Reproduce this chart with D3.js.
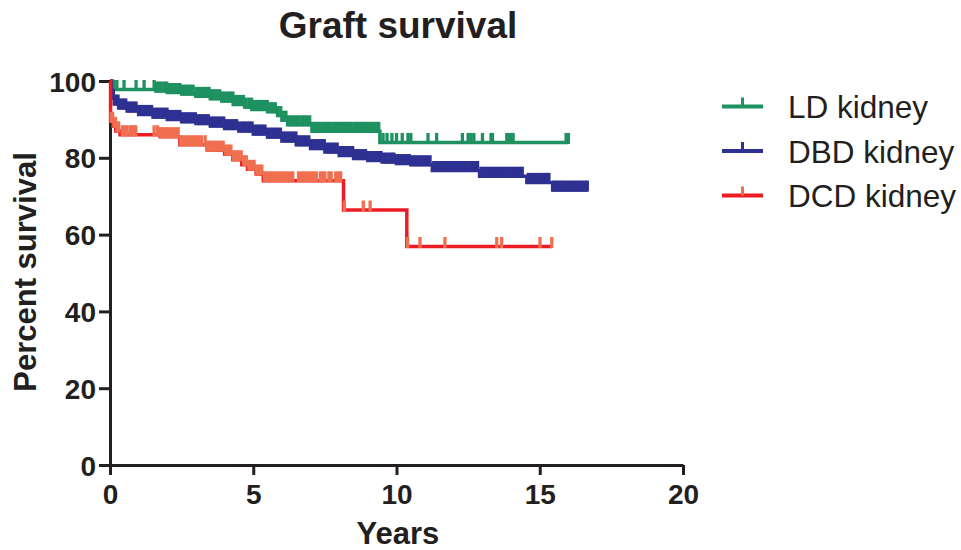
<!DOCTYPE html>
<html><head><meta charset="utf-8">
<script src="https://cdn.jsdelivr.net/npm/d3@7"></script>
<style>
html,body{margin:0;padding:0;background:#fff;}
text{font-family:"Liberation Sans",Arial,Helvetica,sans-serif;fill:#231f20;}
</style></head>
<body>
<svg id="chart" width="961" height="550"></svg>
<script>
// ---- data ----
const xTicks = [0, 5, 10, 15, 20];
const yTicks = [0, 20, 40, 60, 80, 100];
const seriesNames = ["LD kidney", "DBD kidney", "DCD kidney"];

// LD kidney: step times (years) and percent survival
const ldTime = [0, 0.08, 1.6, 2.0, 2.5, 3.0, 3.5, 3.9, 4.3, 4.7, 4.95, 5.5, 5.85, 6.0, 6.2, 7.05, 9.42, 16.0];
const ldSurv = [100, 97.8, 97.4, 97.0, 96.6, 96.0, 95.4, 94.8, 93.9, 93.2, 92.6, 92.0, 91.0, 89.8, 88.6, 86.9, 84.0, 84.0];
const ldCensor = [0.14,0.24,0.49,0.91,1.19,1.54,
 1.62,1.7,1.79,1.9,1.98,2.07,2.17,2.26,2.35,2.44,2.53,2.63,2.72,2.81,2.9,3.0,3.09,3.18,3.27,3.37,3.46,3.55,3.64,3.74,3.83,3.92,4.01,4.11,4.2,4.29,4.38,4.48,4.57,4.66,4.75,4.85,4.94,5.03,5.12,5.22,5.31,5.4,5.49,5.59,5.68,5.77,5.86,5.96,6.05,6.14,6.23,6.33,6.42,6.51,6.6,6.7,6.79,6.88,6.97,7.07,7.16,7.25,7.34,7.44,7.53,7.62,7.71,7.81,7.9,7.99,8.08,8.18,8.27,8.36,8.45,8.55,8.64,8.73,8.82,8.92,9.01,9.1,9.19,9.29,9.38,
 9.53,9.67,9.84,10.0,10.2,10.4,10.5,11.1,11.4,12.3,12.5,12.6,12.7,13.0,13.3,13.35,13.85,13.9,13.96,14.02,14.07,15.92,16.0];

// DBD kidney
const dbdTime = [0, 0.03, 0.08, 0.15, 0.3, 0.6, 1.0, 1.5, 2.0, 2.5, 3.0, 3.5, 4.0, 4.5, 5.0, 5.5, 6.0, 6.5, 7.0, 7.5, 8.0, 8.5, 9.0, 9.5, 10.0, 10.5, 11.25, 12.9, 14.55, 15.45, 16.68];
const dbdSurv = [100, 97.5, 95.5, 94.0, 93.0, 92.2, 91.3, 90.6, 90.0, 89.4, 88.9, 88.3, 87.6, 87.0, 86.2, 85.4, 84.4, 83.4, 82.4, 81.5, 80.6, 79.8, 79.3, 78.9, 78.5, 78.2, 76.7, 75.2, 73.6, 71.6, 71.6];
const dbdCensor = [0.05,0.12,0.2,0.28,0.37,0.46,0.55,0.64,0.73,0.82,0.91,1.0,1.09,1.18,1.27,1.36,1.45,1.54,1.63,1.72,1.81,1.9,1.99,2.08,2.17,2.26,2.35,2.44,2.53,2.62,2.71,2.8,2.89,2.98,3.07,3.16,3.25,3.34,3.43,3.52,3.61,3.7,3.79,3.88,3.97,4.06,4.15,4.24,4.33,4.42,4.51,4.6,4.69,4.78,4.87,4.96,5.05,5.14,5.23,5.32,5.41,5.5,5.59,5.68,5.77,5.86,5.95,6.04,6.13,6.22,6.31,6.4,6.49,6.58,6.67,6.76,6.85,6.94,7.03,7.12,7.21,7.3,7.39,7.48,7.57,7.66,7.75,7.84,7.93,8.02,8.11,8.2,8.29,8.38,8.47,8.56,8.65,8.74,8.83,8.92,9.01,9.1,9.19,9.28,9.37,9.46,9.55,9.64,9.73,9.82,9.91,10.0,10.09,10.18,10.27,10.36,10.45,10.54,10.63,10.72,10.81,10.9,10.99,11.08,11.17,11.3,11.39,11.48,11.57,11.66,11.75,11.84,11.93,12.02,12.11,12.2,12.29,12.38,12.47,12.56,12.65,12.74,12.83,12.95,13.04,13.13,13.22,13.31,13.4,13.49,13.58,13.67,13.76,13.85,13.94,14.03,14.12,14.21,14.3,14.39,14.6,14.69,14.78,14.87,14.96,15.05,15.14,15.23,15.32,15.5,15.59,15.68,15.77,15.86,15.95,16.04,16.13,16.22,16.31,16.4,16.49,16.58,16.66];

// DCD kidney
const dcdTime = [0, 0.02, 0.1, 0.2, 0.35, 1.75, 2.44, 3.39, 4.0, 4.29, 4.6, 4.8, 5.1, 5.35, 8.15, 10.36, 15.42];
const dcdSurv = [100, 89.5, 88.2, 87.0, 86.0, 85.5, 83.4, 82.0, 81.0, 79.5, 78.2, 77.0, 75.8, 74.0, 66.4, 56.9, 56.9];
const dcdCensor = [0.04,0.09,0.14,0.19,0.24,0.3,0.43,0.51,0.6,0.72,0.78,0.84,0.9,1.54,
 1.66,1.75,1.84,1.93,2.02,2.11,2.2,2.29,2.38,2.47,2.56,2.65,2.74,2.83,2.92,3.01,3.1,3.19,3.32,3.41,3.5,3.59,3.68,3.77,3.86,3.95,4.04,4.13,4.22,4.31,4.4,4.49,4.58,4.67,4.76,4.85,4.94,5.03,5.12,5.21,5.3,5.39,5.48,5.57,5.66,5.75,5.84,5.93,6.02,6.11,6.2,6.29,6.38,6.58,6.67,6.76,6.85,6.94,7.03,7.12,7.2,7.34,7.43,7.5,7.64,7.72,7.88,7.97,8.05,
 8.18,8.84,9.08,10.39,10.82,11.69,13.5,13.67,15.01,15.42];

// ---- drawing ----
const svg = d3.select("#chart");
const ink = "#231f20";
const x = d3.scaleLinear().domain([0, 20]).range([110, 683]);
const y = d3.scaleLinear().domain([0, 100]).range([465, 81]);

svg.append("text").attr("x", 398).attr("y", 38).attr("text-anchor", "middle")
  .style("font-size", "37px").style("font-weight", "bold").text("Graft survival");

// axes
const xAxis = d3.axisBottom(x).tickValues(xTicks).tickSize(10).tickSizeOuter(0).tickPadding(9).tickFormat(d3.format("d"));
const yAxis = d3.axisLeft(y).tickValues(yTicks).tickSize(11).tickSizeOuter(0).tickPadding(3).tickFormat(d3.format("d"));
const gx = svg.append("g").attr("transform", "translate(0,465)").call(xAxis);
const gy = svg.append("g").attr("transform", "translate(110,0)").call(yAxis);
[gx, gy].forEach(g => {
  g.select(".domain").attr("stroke", ink).attr("stroke-width", 3);
  g.selectAll(".tick line").attr("stroke", ink).attr("stroke-width", 3);
  g.selectAll(".tick text").attr("fill", ink)
    .style("font-family", '"Liberation Sans",Arial,sans-serif')
    .style("font-size", "28px").style("font-weight", "bold");
});
gy.selectAll(".tick text").attr("dy", "0.36em");

svg.append("text").attr("x", 398).attr("y", 544).attr("text-anchor", "middle")
  .style("font-size", "31px").style("font-weight", "bold").text("Years");
svg.append("text").attr("transform", "translate(36,272) rotate(-90)").attr("text-anchor", "middle")
  .style("font-size", "31px").style("font-weight", "bold").text("Percent survival");

const series = [
  {time: ldTime, surv: ldSurv, censor: ldCensor, line: "#1e9160", tick: "#1e9160"},
  {time: dbdTime, surv: dbdSurv, censor: dbdCensor, line: "#2e3192", tick: "#2e3192"},
  {time: dcdTime, surv: dcdSurv, censor: dcdCensor, line: "#ed1c24", tick: "#f06f50"}
];

const stepLine = d3.line().x(d => x(d[0])).y(d => y(d[1])).curve(d3.curveStepAfter);
function survAt(s, t) {
  let v = s.surv[0];
  for (let i = 0; i < s.time.length; i++) if (s.time[i] <= t) v = s.surv[i];
  return v;
}
series.forEach(s => {
  const pts = s.time.map((t, i) => [t, s.surv[i]]);
  svg.append("path").attr("d", stepLine(pts)).attr("fill", "none")
    .attr("stroke", s.line).attr("stroke-width", 3.5);
  svg.append("g").selectAll("line").data(s.censor).join("line")
    .attr("x1", t => x(t)).attr("x2", t => x(t))
    .attr("y1", t => y(survAt(s, t)) + 1.5).attr("y2", t => y(survAt(s, t)) - 9.5)
    .attr("stroke", s.tick).attr("stroke-width", 3.3);
});

// legend
const legY = [106.5, 151, 195.5];
series.forEach((s, i) => {
  const g = svg.append("g");
  g.append("line").attr("x1", 722).attr("x2", 763).attr("y1", legY[i]).attr("y2", legY[i])
    .attr("stroke", s.line).attr("stroke-width", 4);
  g.append("line").attr("x1", 742.5).attr("x2", 742.5).attr("y1", legY[i]).attr("y2", legY[i] - 9)
    .attr("stroke", s.tick).attr("stroke-width", 3);
  g.append("text").attr("x", 788).attr("y", legY[i] + 11.5)
    .style("font-size", "31.5px").text(seriesNames[i]);
});
</script>
</body></html>
